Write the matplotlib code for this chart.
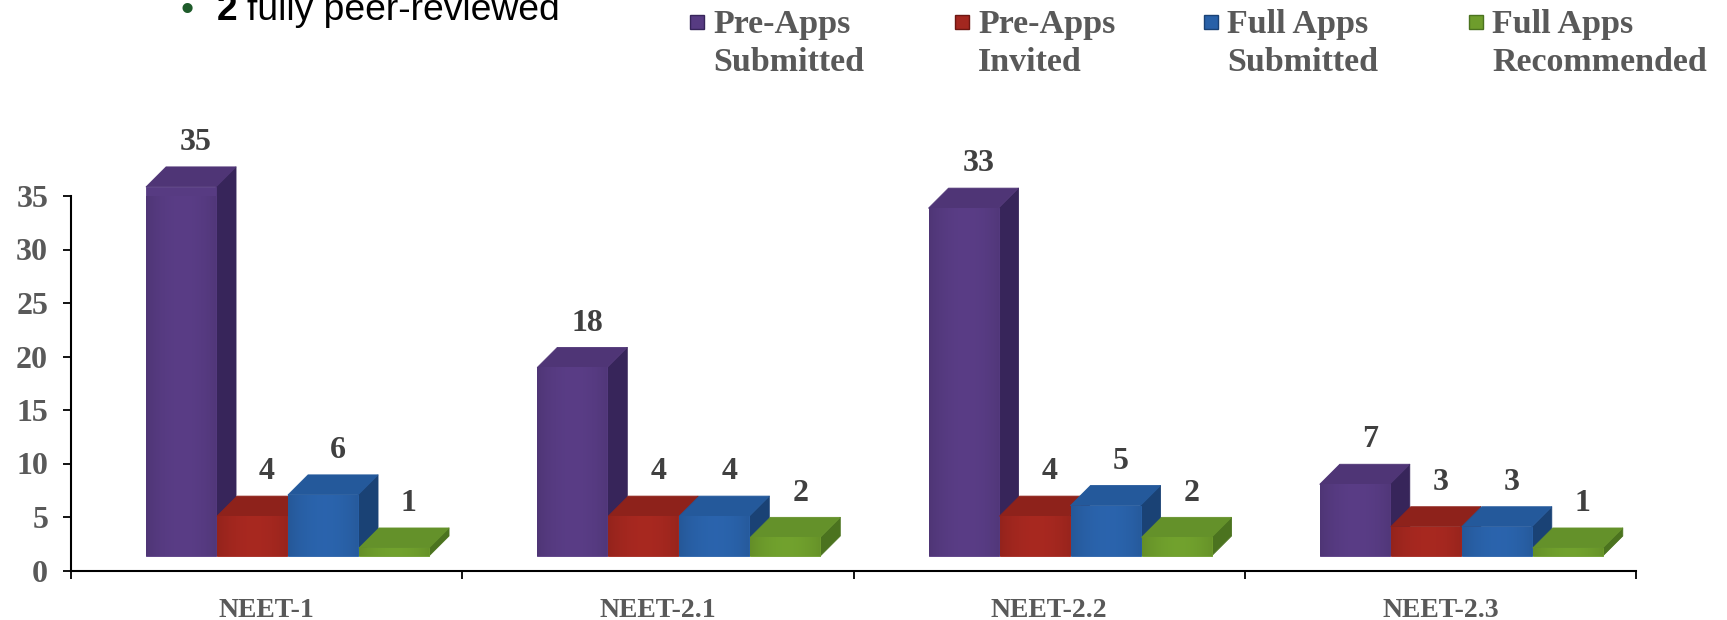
import numpy as np
import matplotlib
matplotlib.use("Agg")
import matplotlib.pyplot as plt
from matplotlib.patches import Polygon, Rectangle
from matplotlib.colors import to_rgb

# ---------------- data ----------------
categories = ["NEET-1", "NEET-2.1", "NEET-2.2", "NEET-2.3"]
series_names = ["Pre-Apps\nSubmitted", "Pre-Apps\nInvited",
                "Full Apps\nSubmitted", "Full Apps\nRecommended"]
pre_apps_submitted = [35, 18, 33, 7]
pre_apps_invited = [4, 4, 4, 3]
full_apps_submitted = [6, 4, 5, 3]
full_apps_recommended = [1, 2, 2, 1]
y_ticks = [0, 5, 10, 15, 20, 25, 30, 35]

series = [pre_apps_submitted, pre_apps_invited, full_apps_submitted, full_apps_recommended]

front_colors = ["#573B82", "#A3271F", "#2961A8", "#6E9D2C"]
top_colors = ["#4F3576", "#8E221B", "#24599B", "#64912A"]
side_colors = ["#37255A", "#6C1712", "#1A4275", "#4B731F"]

SERIF = ["Liberation Serif", "DejaVu Serif"]
SANS = ["Liberation Sans", "DejaVu Sans"]
TXT = "#595959"
LBL = "#404040"

# ---------------- figure / axes ----------------
W, H = 1727, 620
fig = plt.figure(figsize=(W / 100, H / 100), dpi=100)
ax_left_px, ax_right_px = 71, 1636
zero_y_px = 570.5          # from top
px_per_unit = 10.7
ax = fig.add_axes([ax_left_px / W, (H - zero_y_px) / H,
                   (ax_right_px - ax_left_px) / W, 35 * px_per_unit / H])
ax.set_facecolor("none")

xu = 4.0 / (ax_right_px - ax_left_px)   # data x-units per pixel
yu = 1.0 / px_per_unit                  # data y-units per pixel

pitch = 71 * xu
bw = 70 * xu
first = -120.6 * xu
ddx = 20 * xu
ddy = 20 * yu
base = 14.5 * yu
bar_px_per_unit = 10.62
bevel_px = 2.6

t = np.linspace(0, 1, 64)
shade = 0.86 + 0.17 * np.sin(np.pi * (0.05 + 0.85 * t)) ** 0.7

z = 2
for i in range(len(categories)):
    for j, vals in enumerate(series):
        v = vals[i]
        xl = i + first + j * pitch
        xr = xl + bw
        yb = base
        yt = base + (v * bar_px_per_unit - bevel_px) * yu
        side = Polygon([(xr, yb), (xr + ddx, yb + ddy), (xr + ddx, yt + ddy), (xr, yt)],
                       closed=True, fc=side_colors[j], ec=side_colors[j], lw=0.6,
                       joinstyle="round", zorder=z, clip_on=False)
        top = Polygon([(xl, yt), (xr, yt), (xr + ddx, yt + ddy), (xl + ddx, yt + ddy)],
                      closed=True, fc=top_colors[j], ec=top_colors[j], lw=0.6,
                      joinstyle="round", zorder=z + 0.1, clip_on=False)
        front = Polygon([(xl, yb), (xr, yb), (xr, yt), (xl, yt)],
                        closed=True, fc=front_colors[j], ec=front_colors[j], lw=0.6,
                        joinstyle="round", zorder=z + 0.2, clip_on=False)
        ax.add_patch(side)
        ax.add_patch(top)
        ax.add_patch(front)
        rgb = np.array(to_rgb(front_colors[j]))
        grad = np.clip(rgb[None, None, :] * shade[None, :, None], 0, 1)
        im = ax.imshow(grad, extent=(xl, xr, yb, yt), aspect="auto",
                       interpolation="bilinear", zorder=z + 0.3)
        im.set_clip_path(front)
        im.set_clip_box(None)
        ax.annotate(str(v), xy=(xl + bw / 2 + ddx / 2, yt + ddy), xytext=(3.5, 17.5),
                    textcoords="offset points", ha="center", va="center",
                    fontsize=23, fontweight="bold", family=SERIF, color=LBL,
                    annotation_clip=False, zorder=20)
        z += 1

ax.set_xlim(-0.5, 3.5)
ax.set_ylim(0, 35)

for s in ["top", "right"]:
    ax.spines[s].set_visible(False)
for s in ["left", "bottom"]:
    ax.spines[s].set_linewidth(1.5)
    ax.spines[s].set_color("black")
    ax.spines[s].set_zorder(1)

ax.set_yticks(y_ticks)
ax.set_yticklabels([str(v) for v in y_ticks], fontsize=23, fontweight="bold",
                   family=SERIF, color=TXT)
ax.tick_params(axis="y", length=5.5, width=1.3, pad=11, color="black")

ax.set_xticks(range(len(categories)))
ax.set_xticklabels(categories, fontsize=20, fontweight="bold", family=SERIF, color=TXT)
ax.set_xticks([k - 0.5 for k in range(len(categories) + 1)], minor=True)
ax.tick_params(axis="x", which="major", length=0, pad=19.5)
ax.tick_params(axis="x", which="minor", length=6, width=1.3, color="black", direction="out")

# ---------------- legend (manual, wrapped labels) ----------------
leg_text_x = [713, 978, 1227, 1492]
for j, name in enumerate(series_names):
    l1, l2 = name.split("\n")
    tx = leg_text_x[j]
    fig.text(tx / W, 1 - 33 / H, l1, ha="left", va="baseline", fontsize=24.5,
             fontweight="bold", family=SERIF, color=TXT)
    fig.text(tx / W, 1 - 71 / H, l2, ha="left", va="baseline", fontsize=24.5,
             fontweight="bold", family=SERIF, color=TXT)
    sq = 14
    fig.add_artist(Rectangle(((tx - 16 - sq / 2) / W, 1 - (22 + sq / 2) / H), sq / W, sq / H,
                             transform=fig.transFigure, fc=front_colors[j],
                             ec=side_colors[j], lw=1.0))

# ---------------- cut-off bullet text at top (cut off in the reference too) ----------------
fig.text(181 / W, 1 - 20 / H, "\u2022", ha="left", va="baseline", fontsize=26.8,
         family=SANS, color="#1E5B2A")
fig.text(216.5 / W, 1 - 20 / H, "2", ha="left", va="baseline", fontsize=26.8,
         fontweight="bold", family=SANS, color="black")
fig.text(247 / W, 1 - 20 / H, "fully peer-reviewed", ha="left", va="baseline",
         fontsize=26.8, family=SANS, color="black")

fig.savefig("out.png", dpi=100, facecolor="white")
